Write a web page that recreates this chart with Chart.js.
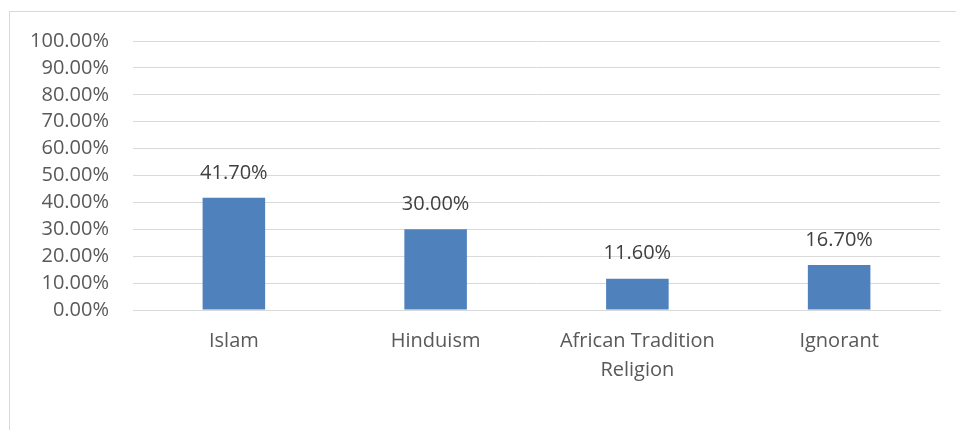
<!DOCTYPE html>
<html>
<head>
<meta charset="utf-8">
<script src="https://cdn.jsdelivr.net/npm/chart.js@4.4.1/dist/chart.umd.min.js"></script>
<style>
    html, body { margin: 0; padding: 0; background: #fff; }
    #wrap { position: relative; width: 956px; height: 430px; overflow: hidden; }
    #frame { position: absolute; left: 9px; top: 11px; width: 960px; height: 430px;
             border-left: 1px solid #d9d9d9; border-top: 1px solid #d9d9d9; }
    canvas { position: absolute; left: 0; top: 0; }
</style>
</head>
<body>
<div id="wrap">
    <div id="frame"></div>
    <canvas id="chart" width="956" height="430"></canvas>
</div>
<script>
// Chart data
const categories = ['Islam', 'Hinduism', ['African Tradition', 'Religion'], 'Ignorant'];
const shares = [41.7, 30.0, 11.6, 16.7];
const yTicks = [0, 10, 20, 30, 40, 50, 60, 70, 80, 90, 100];

const colors = {
    bar: '#4f81bd',
    grid: '#d9d9d9',
    tick: '#595959',
    label: '#404040'
};
const fontFamily = '"Open Sans", sans-serif';
const fontSize = 20;

// Draw value labels above each bar
const valueLabels = {
    id: 'valueLabels',
    afterDatasetsDraw(chart) {
        const ctx = chart.ctx;
        const meta = chart.getDatasetMeta(0);
        ctx.save();
        ctx.font = fontSize + 'px ' + fontFamily;
        ctx.fillStyle = colors.label;
        ctx.textAlign = 'center';
        ctx.textBaseline = 'middle';
        meta.data.forEach((bar, i) => {
            ctx.fillText(shares[i].toFixed(2) + '%', bar.x, bar.y - 25);
        });
        ctx.restore();
    }
};

new Chart(document.getElementById('chart').getContext('2d'), {
    type: 'bar',
    data: {
        labels: categories,
        datasets: [{
            data: shares,
            backgroundColor: colors.bar,
            borderWidth: 0,
            barPercentage: 0.31,
            categoryPercentage: 1
        }]
    },
    options: {
        responsive: false,
        animation: false,
        layout: { padding: { top: 41, right: 16, left: 0, bottom: 0 } },
        plugins: {
            legend: { display: false },
            tooltip: { enabled: false }
        },
        scales: {
            x: {
                grid: { display: false, drawTicks: false },
                border: { color: colors.grid, width: 1 },
                ticks: {
                    color: colors.tick,
                    font: { family: fontFamily, size: fontSize, lineHeight: 1.48 },
                    padding: 16,
                    maxRotation: 0
                },
                afterFit(axis) { axis.height = 120; }
            },
            y: {
                min: 0,
                max: 100,
                afterBuildTicks(axis) { axis.ticks = yTicks.map(v => ({ value: v })); },
                grid: { color: colors.grid, lineWidth: 1, drawTicks: false },
                border: { display: false },
                ticks: {
                    color: colors.tick,
                    font: { family: fontFamily, size: fontSize, lineHeight: 1 },
                    padding: 24,
                    autoSkip: false,
                    callback: value => value.toFixed(2) + '%'
                },
                afterFit(axis) { axis.width = 133; }
            }
        }
    },
    plugins: [valueLabels]
});
</script>
</body>
</html>
